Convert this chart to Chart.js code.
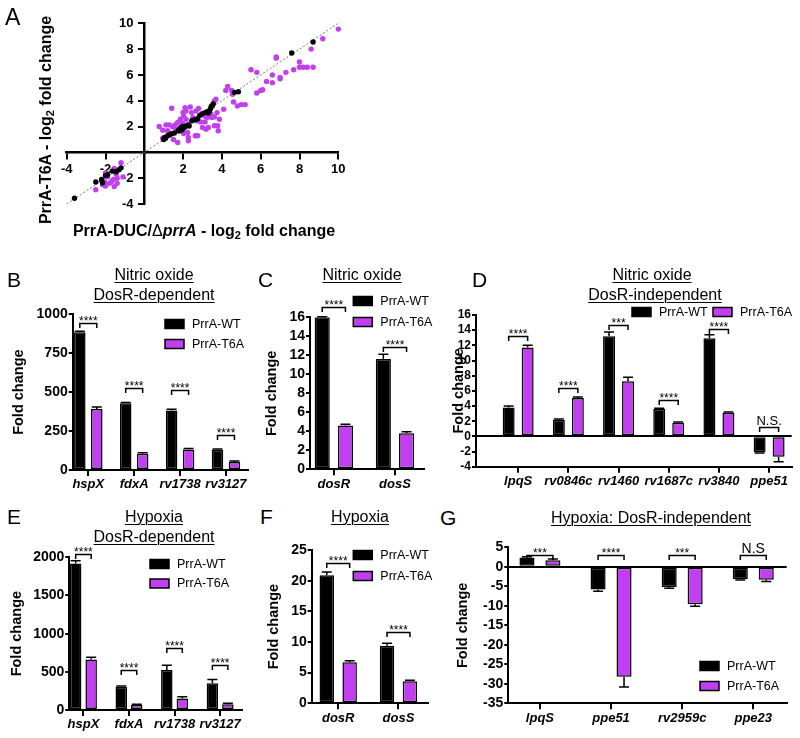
<!DOCTYPE html>
<html>
<head>
<meta charset="utf-8">
<script src="https://cdn.jsdelivr.net/npm/chart.js@4.4.1/dist/chart.umd.min.js"></script>
<style>
  body { margin: 0; background: #fff; }
  #fig { position: relative; width: 800px; height: 738px; overflow: hidden;
         font-family: "Liberation Sans", Arial, Helvetica, sans-serif; color: #000; }
  #fig canvas { position: absolute; }
  .t { position: absolute; line-height: 1; white-space: nowrap; }
  .letter { font-size: 21px; }
  .ttl { font-size: 16px; width: 300px; text-align: center; text-decoration: underline;
         text-decoration-thickness: 1px; text-underline-offset: 2px; }
  .axt { font-size: 16px; font-weight: bold; text-align: center; }
  .sub { font-size: 11px; position: relative; top: 3px; }
</style>
</head>
<body>
<div id="fig">
  <canvas id="cA" width="360" height="215" style="left:0;top:0"></canvas>
  <canvas id="cB" width="260" height="200" style="left:0;top:300px"></canvas>
  <canvas id="cC" width="176" height="210" style="left:260px;top:290px"></canvas>
  <canvas id="cD" width="370" height="210" style="left:430px;top:290px"></canvas>
  <canvas id="cE" width="260" height="208" style="left:0;top:530px"></canvas>
  <canvas id="cF" width="176" height="208" style="left:260px;top:530px"></canvas>
  <canvas id="cG" width="370" height="208" style="left:430px;top:530px"></canvas>

  <div class="t" style="left:5px;top:5.5px;font-size:23px">A</div>
  <div class="t letter" style="left:7px;top:269px">B</div>
  <div class="t letter" style="left:258px;top:269px">C</div>
  <div class="t letter" style="left:472px;top:269px">D</div>
  <div class="t letter" style="left:7px;top:506px">E</div>
  <div class="t letter" style="left:260px;top:506px">F</div>
  <div class="t letter" style="left:440px;top:507px">G</div>

  <div class="t axt" style="left:-64.5px;top:110px;width:220px;height:20px;line-height:20px;transform:rotate(-90deg)">PrrA-T6A - log<span class="sub">2</span> fold change</div>
  <div class="t axt" style="left:4px;top:222.5px;width:400px">PrrA-DUC/<span style="font-weight:normal">Δ</span><i>prrA</i> - log<span class="sub">2</span> fold change</div>

  <div class="t ttl" style="left:4px;top:266.5px">Nitric oxide</div>
  <div class="t ttl" style="left:4px;top:286.5px">DosR-dependent</div>
  <div class="t ttl" style="left:212px;top:266.5px">Nitric oxide</div>
  <div class="t ttl" style="left:502px;top:266.5px">Nitric oxide</div>
  <div class="t ttl" style="left:505px;top:286.5px">DosR-independent</div>
  <div class="t ttl" style="left:4px;top:508.5px">Hypoxia</div>
  <div class="t ttl" style="left:4px;top:528.5px">DosR-dependent</div>
  <div class="t ttl" style="left:210px;top:508.5px">Hypoxia</div>
  <div class="t ttl" style="left:501px;top:509.5px">Hypoxia: DosR-independent</div>
</div>

<script>
// ---- data ----
// A: scatter, [PrrA-DUC/ΔprrA log2FC, PrrA-T6A log2FC]
const aBlack = [
  [-3.6, -3.55], [-2.5, -2.3], [-2.2, -2.1], [-2.15, -2.35], [-2.0, -1.8], [-1.9, -1.75],
  [-1.65, -1.45], [-1.45, -1.5], [-1.3, -1.35], [-1.2, -1.2],
  [1.0, 1.0], [1.05, 1.15], [1.1, 1.1], [1.2, 1.3], [1.3, 1.35], [1.4, 1.45], [1.55, 1.5],
  [1.75, 1.7], [1.8, 1.65], [1.85, 1.85], [1.9, 1.95], [1.95, 1.75], [2.0, 2.0], [2.05, 1.9],
  [2.15, 2.05], [2.25, 2.1], [2.3, 2.05], [2.45, 2.45], [2.55, 2.5], [2.65, 2.55], [2.75, 2.6],
  [2.85, 2.85], [3.0, 3.0], [3.15, 3.1], [3.25, 3.15], [3.3, 3.05], [3.35, 3.2], [3.4, 3.35],
  [3.45, 3.55], [3.5, 3.6], [3.55, 3.75], [4.65, 4.65], [4.85, 4.7], [7.6, 7.7], [8.7, 8.55]
];
const aPurple = [
  [-2.0, -1.6], [-1.9, -1.9], [-1.55, -1.25], [-1.45, -1.7], [-1.2, -0.8], [-1.6, -2.1],
  [-1.4, -2.0], [-1.1, -1.9], [-2.05, -2.3], [-2.15, -2.5], [-2.5, -2.9], [-2.0, -2.6],
  [-1.55, -2.65], [-1.8, -2.4], [-1.4, -2.4], [-2.2, -2.2], [-1.7, -2.3],
  [0.77, 2.0], [0.95, 1.72], [1.41, 3.42], [1.46, 1.98], [1.72, 0.77], [1.89, 1.93], [2.03, 2.83],
  [2.1, 3.47], [2.15, 3.21], [2.23, 1.54], [2.27, 0.9], [2.37, 3.52], [2.44, 3.08], [2.66, 3.21],
  [2.75, 2.44], [2.92, 2.96], [3.0, 1.93], [2.75, 1.29], [2.63, 1.29], [3.18, 1.8], [3.3, 1.93],
  [3.44, 2.96], [3.61, 2.75], [3.75, 3.08], [3.61, 2.06], [3.78, 2.06], [3.81, 1.67], [3.47, 2.7],
  [3.61, 3.98], [3.69, 4.11], [4.09, 3.34], [3.87, 2.57], [3.13, 2.36], [3.23, 2.7], [1.86, 2.57],
  [1.72, 2.31], [1.58, 2.13], [1.29, 2.13], [1.2, 1.67], [1.12, 2.13], [2.15, 2.57], [2.29, 2.19],
  [1.98, 2.24], [2.03, 1.47], [2.32, 2.06], [2.27, 1.16], [2.92, 2.36], [3.09, 2.83], [0.95, 1.1],
  [1.5, 1.0], [2.5, 2.7], [2.0, 3.1], [2.8, 3.4], [1.6, 1.9],
  [4.3, 5.1], [4.2, 4.8], [4.5, 4.8], [4.55, 4.5], [4.6, 3.9], [4.8, 3.6], [5.0, 3.7], [5.2, 3.7],
  [5.5, 6.4], [5.8, 6.2], [5.8, 4.6], [6.0, 4.8], [6.1, 4.85], [6.3, 5.5], [6.6, 5.4], [6.6, 6.0],
  [6.8, 7.4], [6.8, 7.3], [7.0, 5.8], [7.0, 5.7], [7.3, 6.2], [7.7, 6.4], [8.0, 7.0], [8.0, 6.6],
  [8.2, 6.6], [8.4, 6.6], [8.7, 6.6], [8.6, 8.0], [9.2, 8.8], [10.0, 9.55]
];
const aDiagonal = [-4, 10];

// B: nitric oxide, DosR-dependent
const bGenes = ['hspX', 'fdxA', 'rv1738', 'rv3127'];
const bWT = [885, 428, 382, 130];
const bWTErr = [6, 6, 8, 5];
const bT6A = [392, 105, 132, 52];
const bT6AErr = [12, 6, 6, 6];
const bSig = ['****', '****', '****', '****'];
const bSigAt = [946, 525, 514, 225];

// C: nitric oxide
const cGenes = ['dosR', 'dosS'];
const cWT = [16.0, 11.6];
const cWTErr = [0.05, 0.5];
const cT6A = [4.6, 3.8];
const cT6AErr = [0.15, 0.15];
const cSig = ['****', '****'];
const cSigAt = [17.1, 12.9];

// D: nitric oxide, DosR-independent
const dGenes = ['lpqS', 'rv0846c', 'rv1460', 'rv1687c', 'rv3840', 'ppe51'];
const dWT = [3.8, 2.2, 13.2, 3.6, 12.95, -2.1];
const dWTErr = [0.2, 0.1, 0.55, 0.1, 0.45, 0.1];
const dT6A = [11.7, 5.05, 7.25, 1.8, 3.1, -2.7];
const dT6AErr = [0.3, 0.15, 0.55, 0.1, 0.1, 0.65];
const dSig = ['****', '****', '***', '****', '****', 'N.S.'];
const dSigAt = [13.2, 6.4, 14.7, 4.8, 14.2, 1.2];

// E: hypoxia, DosR-dependent
const eGenes = ['hspX', 'fdxA', 'rv1738', 'rv3127'];
const eWT = [1920, 305, 525, 350];
const eWTErr = [35, 10, 60, 50];
const eT6A = [660, 65, 150, 75];
const eT6AErr = [30, 10, 25, 15];
const eSig = ['****', '****', '****', '****'];
const eSigAt = [2044, 524, 808, 590];

// F: hypoxia
const fGenes = ['dosR', 'dosS'];
const fWT = [20.9, 9.4];
const fWTErr = [0.5, 0.4];
const fT6A = [6.7, 3.6];
const fT6AErr = [0.25, 0.15];
const fSig = ['****', '****'];
const fSigAt = [22.8, 11.7];

// G: hypoxia, DosR-independent
const gGenes = ['lpqS', 'ppe51', 'rv2959c', 'ppe23'];
const gWT = [2.4, -5.8, -5.2, -3.2];
const gWTErr = [0.2, 0.5, 0.3, 0.2];
const gT6A = [1.7, -28.2, -9.6, -3.3];
const gT6AErr = [0.3, 2.6, 0.5, 0.5];
const gSig = ['***', '****', '***', 'N.S'];
const gSigAt = [2.9, 2.9, 2.9, 2.9];

const PURPLE = '#c13ff0';
const FONT = '"Liberation Sans", Arial, Helvetica, sans-serif';
Chart.defaults.font.family = FONT;
Chart.defaults.color = '#000';

// error bars on top of (or under) each bar
const errPlugin = {
  id: 'errbars',
  afterDatasetsDraw(chart) {
    const c = chart.ctx, ys = chart.scales.y;
    chart.data.datasets.forEach((ds, di) => {
      chart.getDatasetMeta(di).data.forEach((bar, i) => {
        const v = ds.data[i].y, e = ds.err[i];
        const y0 = ys.getPixelForValue(v), y1 = ys.getPixelForValue(v >= 0 ? v + e : v - e);
        c.save();
        c.strokeStyle = '#000';
        c.lineWidth = 1.5;
        c.beginPath();
        c.moveTo(bar.x, y0); c.lineTo(bar.x, y1);
        c.moveTo(bar.x - 5, y1); c.lineTo(bar.x + 5, y1);
        c.stroke();
        c.restore();
      });
    });
  }
};

// significance brackets
const sigPlugin = {
  id: 'sig',
  afterDatasetsDraw(chart, args, opts) {
    const c = chart.ctx, ys = chart.scales.y;
    const m0 = chart.getDatasetMeta(0).data, m1 = chart.getDatasetMeta(1).data;
    c.save();
    c.strokeStyle = '#000';
    c.fillStyle = '#000';
    c.lineWidth = 1.5;
    c.textAlign = 'center';
    c.textBaseline = 'alphabetic';
    opts.labels.forEach((t, i) => {
      const y = Math.round(ys.getPixelForValue(opts.at[i])) + 0.5;
      const x0 = m0[i].x, x1 = m1[i].x;
      c.beginPath();
      c.moveTo(x0, y + 4.5); c.lineTo(x0, y); c.lineTo(x1, y); c.lineTo(x1, y + 4.5);
      c.stroke();
      const star = t.includes('*');
      c.font = (star ? 12 : opts.ns) + 'px ' + FONT;
      c.fillText(t, (x0 + x1) / 2, star ? y + 1.5 : y - 3);
    });
    c.restore();
  }
};

// legend boxes at a fixed spot of the canvas
const legendPlugin = {
  id: 'boxLegend',
  afterDraw(chart, args, opts) {
    const c = chart.ctx;
    c.save();
    c.font = '12.5px ' + FONT;
    c.textBaseline = 'middle';
    chart.data.datasets.forEach((ds, i) => {
      const x = opts.x + i * opts.dx, y = opts.y + i * opts.dy;
      c.fillStyle = ds.backgroundColor;
      c.fillRect(x, y - 4.5, 19, 9);
      c.lineWidth = 1.5;
      c.strokeStyle = '#000';
      c.strokeRect(x, y - 4.5, 19, 9);
      c.fillStyle = '#000';
      c.fillText(ds.label, x + 27, y + 0.5);
    });
    c.restore();
  }
};

// ---- A ----
// labels of an axis placed at {x: 0} are right-aligned on the axis itself,
// so a few no-break spaces push them clear of the tick marks
const NB = '\u00a0\u00a0\u00a0';
new Chart(document.getElementById('cA'), {
  type: 'scatter',
  data: {
    datasets: [
      { data: aBlack.map(p => ({ x: p[0], y: p[1] })), backgroundColor: '#000', pointRadius: 2.7,
        borderWidth: 0, order: 1, clip: false },
      { data: aPurple.map(p => ({ x: p[0], y: p[1] })), backgroundColor: PURPLE, pointRadius: 2.7,
        borderWidth: 0, order: 2, clip: false },
      { type: 'line', data: aDiagonal.map(v => ({ x: v, y: v })), borderColor: '#777', borderWidth: 1,
        borderDash: [2, 2], pointRadius: 0, fill: false, order: 3 }
    ]
  },
  options: {
    responsive: false,
    animation: false,
    layout: { padding: { left: 66.7, right: 21.7, top: 23.3, bottom: 11 } },
    plugins: { legend: { display: false }, tooltip: { enabled: false } },
    scales: {
      x: { type: 'linear', position: { y: 0 }, min: -4, max: 10,
           ticks: { stepSize: 2, callback: v => (v === 0 ? '' : String(v)), font: { size: 13, weight: 'bold' },
                    color: '#000', padding: 3, maxRotation: 0, autoSkip: false },
           grid: { drawOnChartArea: false, color: '#000', lineWidth: 2, tickLength: 6 },
           border: { color: '#000', width: 2.5 } },
      y: { type: 'linear', position: { x: 0 }, min: -4, max: 10,
           ticks: { stepSize: 2, callback: v => (v === 0 ? '' : String(v) + NB), font: { size: 13, weight: 'bold' },
                    color: '#000', padding: 3, autoSkip: false },
           grid: { drawOnChartArea: false, color: '#000', lineWidth: 2, tickLength: 5 },
           border: { color: '#000', width: 2.5 } }
    }
  }
});

// ---- bar panels ----
function barChart(id, genes, wt, wtErr, t6a, t6aErr, sig, sigAt, look) {
  return new Chart(document.getElementById(id), {
    type: 'bar',
    data: {
      datasets: [
        { label: 'PrrA-WT', data: wt.map((v, i) => ({ x: i, y: v })), err: wtErr,
          backgroundColor: '#000', borderColor: '#000', borderWidth: 1.5, borderSkipped: false,
          categoryPercentage: look.cat, barPercentage: look.bar },
        { label: 'PrrA-T6A', data: t6a.map((v, i) => ({ x: i, y: v })), err: t6aErr,
          backgroundColor: PURPLE, borderColor: '#000', borderWidth: 1.5, borderSkipped: false,
          categoryPercentage: look.cat, barPercentage: look.bar }
      ]
    },
    options: {
      responsive: false,
      animation: false,
      layout: { padding: { left: 0, top: look.top, right: look.right, bottom: 0 } },
      plugins: {
        legend: { display: false },
        tooltip: { enabled: false },
        sig: { labels: sig, at: sigAt, ns: look.ns || 13 },
        boxLegend: look.legend
      },
      scales: {
        x: { type: 'linear', offset: false, min: look.xmin, max: look.xmax,
             afterBuildTicks: s => { s.ticks = genes.map((g, i) => ({ value: i })); },
             afterFit: s => { s.height = look.xh; },
             ticks: { callback: v => genes[v] || '', font: { size: 13, weight: 'bold', style: 'italic' },
                      color: '#000', padding: 1, maxRotation: 0, autoSkip: false },
             grid: { offset: false, drawOnChartArea: false, color: '#000', lineWidth: 2, tickLength: 6 },
             border: { color: '#000', width: 2 } },
        y: { min: look.ymin, max: look.ymax,
             afterFit: s => { s.width = look.yw; },
             ticks: { stepSize: look.step, callback: v => String(v), font: { size: look.fs, weight: 'bold' },
                      color: '#000', padding: 1, autoSkip: false },
             grid: { color: c => (c.tick && c.tick.value === 0 ? '#000' : 'rgba(0,0,0,0)'),
                     tickColor: '#000', lineWidth: 2, tickLength: 4 },
             border: { color: '#000', width: 2 },
             title: { display: true, text: 'Fold change', font: { size: 14.5, weight: 'bold' }, color: '#000',
                      padding: { top: look.tpad, bottom: 0 } } }
      }
    },
    plugins: [errPlugin, sigPlugin, legendPlugin]
  });
}

barChart('cB', bGenes, bWT, bWTErr, bT6A, bT6AErr, bSig, bSigAt, {
  top: 14.3, right: 12, yw: 72.7, xh: 30, tpad: 10.3, xmin: -0.34, xmax: 3.48,
  ymin: 0, ymax: 1000, step: 250, fs: 14, cat: 0.74, bar: 0.68,
  legend: { x: 165, y: 24, dx: 0, dy: 20 }
});
barChart('cC', cGenes, cWT, cWTErr, cT6A, cT6AErr, cSig, cSigAt, {
  top: 27.3, right: 12, yw: 50, xh: 30.7, tpad: 3, xmin: -0.39, xmax: 1.475,
  ymin: 0, ymax: 16, step: 2, fs: 14, cat: 0.76, bar: 0.65,
  legend: { x: 93.3, y: 11, dx: 0, dy: 21 }
});
barChart('cD', dGenes, dWT, dWTErr, dT6A, dT6AErr, dSig, dSigAt, {
  top: 25, right: 8.3, yw: 46, xh: 33.3, tpad: 19.8, xmin: -0.84, xmax: 5.45,
  ymin: -4, ymax: 16, step: 2, fs: 12, cat: 0.757, bar: 0.63, ns: 13,
  legend: { x: 202, y: 22, dx: 81, dy: 0 }
});
barChart('cE', eGenes, eWT, eWTErr, eT6A, eT6AErr, eSig, eSigAt, {
  top: 27.3, right: 18, yw: 69.3, xh: 28, tpad: 8, xmin: -0.31, xmax: 3.48,
  ymin: 0, ymax: 2000, step: 500, fs: 14, cat: 0.68, bar: 0.74,
  legend: { x: 150, y: 34, dx: 0, dy: 19.5 }
});
barChart('cF', fGenes, fWT, fWTErr, fT6A, fT6AErr, fSig, fSigAt, {
  top: 20, right: 8, yw: 51.7, xh: 34.7, tpad: 5.3, xmin: -0.44, xmax: 1.49,
  ymin: 0, ymax: 25, step: 5, fs: 14, cat: 0.76, bar: 0.63,
  legend: { x: 93.3, y: 25, dx: 0, dy: 21 }
});
barChart('cG', gGenes, gWT, gWTErr, gT6A, gT6AErr, gSig, gSigAt, {
  top: 17.3, right: 13.3, yw: 78.3, xh: 34.7, tpad: 24.3, xmin: -0.445, xmax: 3.47,
  ymin: -35, ymax: 5, step: 5, fs: 14, cat: 0.73, bar: 0.58, ns: 14,
  legend: { x: 270, y: 136, dx: 0, dy: 20 }
});
</script>
</body>
</html>
